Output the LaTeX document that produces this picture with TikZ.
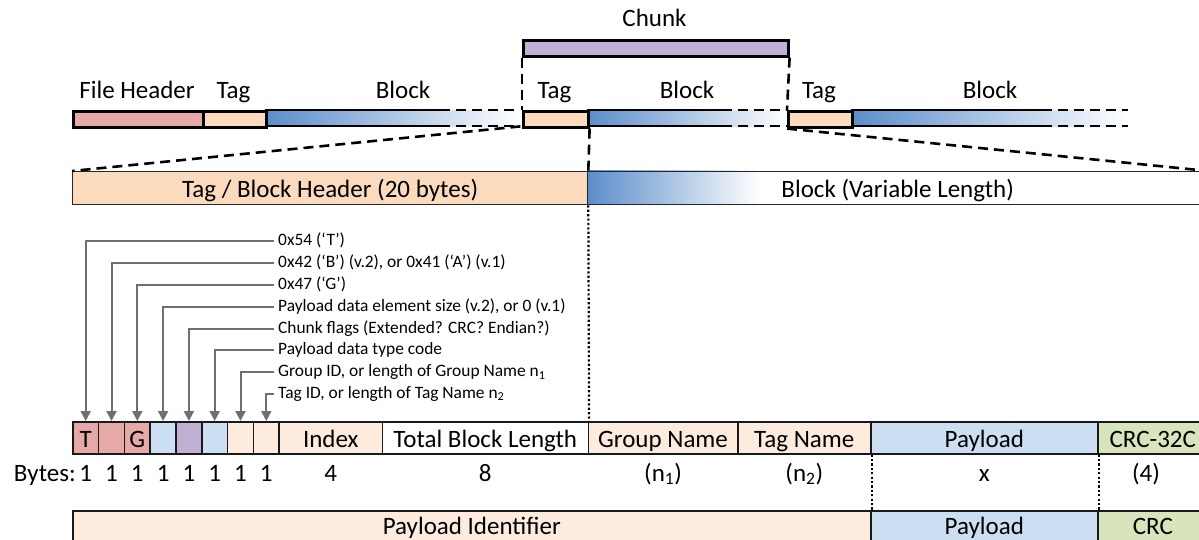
\documentclass[tikz,border=0pt]{standalone}
\usepackage{fontspec}
\setmainfont{Carlito}
\usetikzlibrary{arrows.meta}
\definecolor{pinkC}{HTML}{E5A9A7}
\definecolor{peachC}{HTML}{FBDABD}
\definecolor{peachL}{HTML}{FDEBDD}
\definecolor{blueL}{HTML}{CCDFF2}
\definecolor{purpleC}{HTML}{BFB1D4}
\definecolor{greenC}{HTML}{D7E4BC}
\definecolor{blueG}{HTML}{5B8DCB}
\definecolor{arrowC}{HTML}{6F6F6F}
\begin{document}
\begin{tikzpicture}[x=1pt,y=-1pt,
  big/.style={font=\fontsize{25}{30}\selectfont},
  small/.style={font=\fontsize{17.4}{21}\selectfont},
  seg/.style={draw=black,line width=2.6pt,inner sep=0pt,anchor=north west,minimum height=16pt},
  shadeseg/.style={inner sep=0pt,anchor=north west,minimum height=16pt,left color=blueG,right color=white},
  hdr/.style={draw=black!85,line width=1.3pt,inner sep=0pt,anchor=north west,minimum height=33pt,big,text height=19pt,text depth=0pt},
  cell/.style={draw=black!90,line width=1.6pt,inner sep=0pt,anchor=north west,minimum height=32pt,big,text height=19pt,text depth=0pt},
  barline/.style={line width=2.6pt},
  dashln/.style={line width=2.6pt,dash pattern=on 10pt off 6pt},
  dotln/.style={line width=2.2pt,dash pattern=on 2.2pt off 2.2pt},
  arr/.style={draw=arrowC,line width=2pt,-{Triangle[width=10pt,length=10pt]}},
  note/.style={small,anchor=west,inner xsep=4pt,inner ysep=0pt,text height=13pt,text depth=4pt},
  lbl/.style={big,anchor=base,inner sep=0pt}
]
\clip (0,0) rectangle (1199,540);

% Chunk
\node[seg,fill=purpleC,minimum width=265pt] (chunk) at (522,39) {};
\node[lbl] (chunkl) at (654.5,27) {Chunk};

% top row blocks (shaded)
\node[shadeseg,minimum width=255pt] (b1) at (265,110) {};
\node[shadeseg,minimum width=200pt] (b2) at (587,110) {};
\node[shadeseg,minimum width=277pt] (b3) at (851,110) {};
\draw[barline] (265,110) -- (440,110) (265,126) -- (440,126);
\draw[dashln] (440,110) -- (520,110) (440,126) -- (520,126);
\draw[barline] (587,110) -- (722,110) (587,126) -- (722,126);
\draw[dashln] (722,110) -- (787,110) (722,126) -- (787,126);
\draw[barline] (851,110) -- (1042,110) (851,126) -- (1042,126);
\draw[dashln] (1042,110) -- (1128,110) (1042,126) -- (1128,126);

% top row segments
\node[seg,fill=pinkC,minimum width=130pt] (fh) at (72,110) {};
\node[seg,fill=peachC,minimum width=63pt] (t1) at (202,110) {};
\node[seg,fill=peachC,minimum width=65pt] (t2) at (522,110) {};
\node[seg,fill=peachC,minimum width=64pt] (t3) at (787,110) {};

% top labels
\node[lbl] (lfh) at (137,99) {File Header};
\node[lbl] (lt1) at (233.5,99) {Tag};
\node[lbl] (lb1) at (403,99) {Block};
\node[lbl] (lt2) at (554.5,99) {Tag};
\node[lbl] (lb2) at (687,99) {Block};
\node[lbl] (lt3) at (819,99) {Tag};
\node[lbl] (lb3) at (990,99) {Block};

% chunk guides
\draw[dashln] (chunk.south west) -- (t2.north west);
\draw[dashln] (chunk.south east) -- (t3.north west);

% second bar
\shade[left color=blueG,right color=white] (587,171) rectangle (760,204);
\node[hdr,fill=peachC,minimum width=515pt] (tbh) at (72,171) {Tag / Block Header (20 bytes)};
\node[hdr,minimum width=620pt] (bvl) at (587,171) {Block (Variable Length)};

% zoom guides
\draw[dashln] (b1.south east) -- (tbh.north west);
\draw[dashln] (t3.south west) -- (bvl.north east);
\draw[dashln] (t2.south east) -- (tbh.north east);

% byte table
\node[cell,fill=pinkC,minimum width=25.8pt] (c1) at (72,421) {T};
\node[cell,fill=pinkC,minimum width=25.8pt] (c2) at (97.8,421) {};
\node[cell,fill=pinkC,minimum width=25.8pt] (c3) at (123.6,421) {G};
\node[cell,fill=blueL,minimum width=25.8pt] (c4) at (149.4,421) {};
\node[cell,fill=purpleC,minimum width=25.8pt] (c5) at (175.2,421) {};
\node[cell,fill=blueL,minimum width=25.8pt] (c6) at (201,421) {};
\node[cell,fill=peachL,minimum width=25.8pt] (c7) at (226.8,421) {};
\node[cell,fill=peachL,minimum width=25.8pt] (c8) at (252.6,421) {};
\node[cell,fill=peachL,minimum width=103.1pt] (idx) at (278.4,421) {Index};
\node[cell,fill=white,minimum width=206pt] (tbl) at (381.5,421) {Total Block Length};
\node[cell,fill=peachL,minimum width=149.5pt] (gn) at (587.5,421) {Group Name};
\node[cell,fill=peachL,minimum width=133pt] (tn) at (737,421) {Tag Name};
\node[cell,fill=blueL,minimum width=227pt] (pl) at (870,421) {Payload};
\node[cell,fill=greenC,minimum width=110pt] (crc) at (1097,421) {CRC-32C};

\draw[dotln] (tbh.south east) -- (tbl.north east);

% annotations
\node[note] (n1) at (274,241) {0x54 (‘T’)};
\node[note] (n2) at (274,263) {0x42 (‘B’) (v.2), or 0x41 (‘A’) (v.1)};
\node[note] (n3) at (274,285) {0x47 (‘G’)};
\node[note] (n4) at (274,307) {Payload data element size (v.2), or 0 (v.1)};
\node[note] (n5) at (274,328.5) {Chunk flags (Extended? CRC? Endian?)};
\node[note] (n6) at (274,350) {Payload data type code};
\node[note] (n7) at (274,372) {Group ID, or length of Group Name n\textsubscript{1}};
\node[note] (n8) at (274,393.5) {Tag ID, or length of Tag Name n\textsubscript{2}};
\draw[arr] (n1.west) -| (c1.north);
\draw[arr] (n2.west) -| (c2.north);
\draw[arr] (n3.west) -| (c3.north);
\draw[arr] (n4.west) -| (c4.north);
\draw[arr] (n5.west) -| (c5.north);
\draw[arr] (n6.west) -| (c6.north);
\draw[arr] (n7.west) -| (c7.north);
\draw[arr] (n8.west) -| (c8.north);

% bytes row
\node[big,anchor=base east,inner sep=0pt] (bytes) at (76,481) {Bytes:};
\node[lbl] (d1) at (c1.center |- bytes.base) {1};
\node[lbl] (d2) at (c2.center |- bytes.base) {1};
\node[lbl] (d3) at (c3.center |- bytes.base) {1};
\node[lbl] (d4) at (c4.center |- bytes.base) {1};
\node[lbl] (d5) at (c5.center |- bytes.base) {1};
\node[lbl] (d6) at (c6.center |- bytes.base) {1};
\node[lbl] (d7) at (c7.center |- bytes.base) {1};
\node[lbl] (d8) at (c8.center |- bytes.base) {1};
\node[lbl] (didx) at (idx.center |- bytes.base) {4};
\node[lbl] (dtbl) at (tbl.center |- bytes.base) {8};
\node[lbl] (dgn) at (gn.center |- bytes.base) {(n\textsubscript{1})};
\node[lbl] (dtn) at (tn.center |- bytes.base) {(n\textsubscript{2})};
\node[lbl] (dpl) at (pl.center |- bytes.base) {x};
\node[lbl] (dcrc) at (1146,481) {(4)};

% bottom bar
\node[cell,fill=peachL,minimum width=798pt,text height=15pt] (pid) at (72,510) {Payload Identifier};
\node[cell,fill=blueL,minimum width=227pt,text height=15pt] (pl2) at (870,510) {Payload};
\node[cell,fill=greenC,minimum width=110pt,text height=15pt] (crc2) at (1097,510) {CRC};

\draw[dotln] (tn.south east) -- (pid.north east);
\draw[dotln] (pl.south east) -- (pl2.north east);
\end{tikzpicture}
\end{document}
